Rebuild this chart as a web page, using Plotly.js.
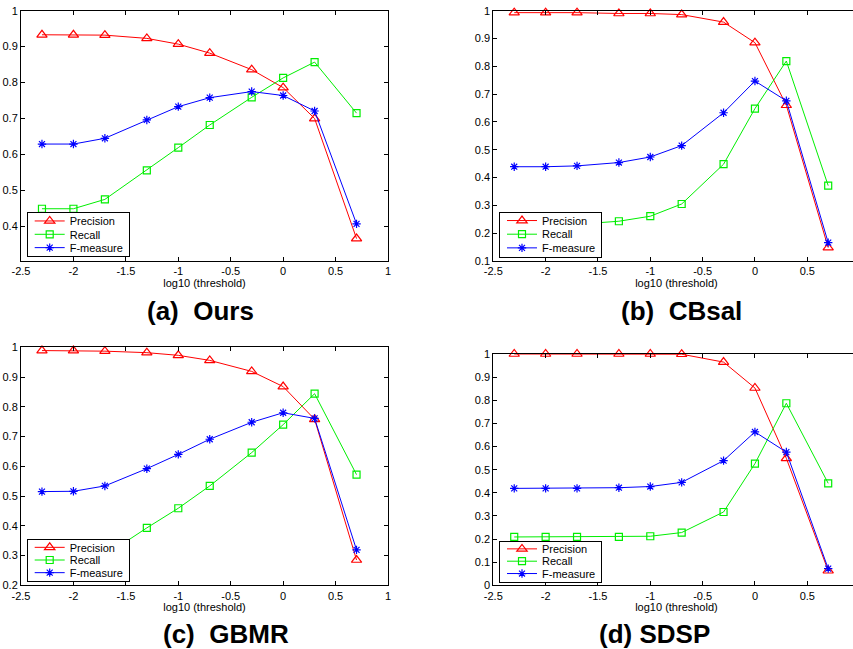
<!DOCTYPE html>
<html>
<head>
<meta charset="utf-8">
<script src="https://cdn.plot.ly/plotly-3.0.1.min.js"></script>
<style>
html, body { margin: 0; padding: 0; background: #fff; overflow: hidden; }
#chart { width: 860px; height: 649px; }
</style>
</head>
<body>
<div id="chart"></div>
<script>
// log10(threshold)
const logThreshold = [-2.3, -2, -1.7, -1.3, -1, -0.7, -0.3, 0, 0.3, 0.7];
const seriesNames = ['Precision', 'Recall', 'F-measure'];
const captions = ['(a)  Ours', '(b)  CBsal', '(c)  GBMR', '(d) SDSP'];
const xTickVals = [-2.5, -2, -1.5, -1, -0.5, 0, 0.5, 1];

// (a) Ours
const oursPrecision = [0.933, 0.933, 0.932, 0.923, 0.907, 0.882, 0.836, 0.786, 0.700, 0.366];
const oursRecall    = [0.449, 0.449, 0.475, 0.556, 0.619, 0.682, 0.759, 0.813, 0.857, 0.715];
const oursFmeasure  = [0.629, 0.629, 0.645, 0.696, 0.733, 0.758, 0.775, 0.764, 0.721, 0.407];

// (b) CBsal
const cbsalPrecision = [0.993, 0.993, 0.993, 0.990, 0.990, 0.986, 0.959, 0.885, 0.660, 0.148];
const cbsalRecall    = [0.230, 0.230, 0.232, 0.243, 0.261, 0.305, 0.448, 0.648, 0.819, 0.371];
const cbsalFmeasure  = [0.439, 0.439, 0.442, 0.454, 0.474, 0.515, 0.633, 0.747, 0.676, 0.166];

// (c) GBMR
const gbmrPrecision = [0.989, 0.989, 0.987, 0.982, 0.973, 0.956, 0.919, 0.868, 0.758, 0.285];
const gbmrRecall    = [0.290, 0.290, 0.300, 0.393, 0.459, 0.534, 0.646, 0.740, 0.844, 0.572];
const gbmrFmeasure  = [0.515, 0.516, 0.534, 0.592, 0.640, 0.691, 0.748, 0.780, 0.761, 0.319];

// (d) SDSP
const sdspPrecision = [1.000, 1.000, 1.000, 1.000, 1.000, 0.999, 0.965, 0.853, 0.549, 0.063];
const sdspRecall    = [0.209, 0.209, 0.209, 0.209, 0.212, 0.228, 0.317, 0.526, 0.787, 0.441];
const sdspFmeasure  = [0.419, 0.419, 0.419, 0.422, 0.427, 0.445, 0.539, 0.663, 0.576, 0.072];

const panels = [
  [oursPrecision, oursRecall, oursFmeasure],
  [cbsalPrecision, cbsalRecall, cbsalFmeasure],
  [gbmrPrecision, gbmrRecall, gbmrFmeasure],
  [sdspPrecision, sdspRecall, sdspFmeasure]
];

const W = 860, H = 649;
const FONT = 'Liberation Sans, Arial, sans-serif';
const colors = ['#ff0000', '#00ee00', '#0000ff'];
const symbols = ['triangle-up-open', 'square-open', 'asterisk-open'];
const msizes = [9, 7, 7];

// pixel boxes [left, right, top, bottom]
const boxes = [
  [21, 388, 10.7, 260.5],
  [493.3, 859.6, 10.7, 261],
  [21, 388, 347.3, 585.3],
  [493.3, 859.6, 354, 585.3]
];
const yRanges = [[0.305, 1], [0.1, 1], [0.2, 1], [0, 1]];
const yTicks = [
  [0.4, 0.5, 0.6, 0.7, 0.8, 0.9, 1],
  [0.1, 0.2, 0.3, 0.4, 0.5, 0.6, 0.7, 0.8, 0.9, 1],
  [0.2, 0.3, 0.4, 0.5, 0.6, 0.7, 0.8, 0.9, 1],
  [0, 0.1, 0.2, 0.3, 0.4, 0.5, 0.6, 0.7, 0.8, 0.9, 1]
];
const legendBoxes = [
  [26.7, 212.3],
  [499, 211.7],
  [26.7, 539],
  [499, 540.7]
];
const legendHeights = [44, 45, 42, 41];
const legendWidth = 102;
const captionPos = [[200, 311], [681, 311], [226, 634], [654, 634]];

const data = [];
const layout = {
  width: W, height: H,
  margin: {l: 0, r: 0, t: 0, b: 0},
  paper_bgcolor: '#fff', plot_bgcolor: '#fff',
  font: {family: FONT, size: 11, color: '#000'},
  showlegend: true,
  annotations: []
};

panels.forEach((series, p) => {
  const sfx = p === 0 ? '' : String(p + 1);
  const legName = 'legend' + sfx;
  series.forEach((vals, s) => {
    data.push({
      x: logThreshold, y: vals, name: seriesNames[s],
      type: 'scatter', mode: 'lines+markers',
      xaxis: 'x' + sfx, yaxis: 'y' + sfx,
      legend: legName,
      cliponaxis: false,
      line: {color: colors[s], width: 1},
      marker: {symbol: symbols[s], size: msizes[s], color: colors[s], line: {color: colors[s], width: 1.2}}
    });
  });
  const b = boxes[p];
  const axCommon = {
    showline: true, linecolor: '#000', linewidth: 1, mirror: 'ticks',
    ticks: 'inside', ticklen: 4, tickcolor: '#000', tickwidth: 1,
    showgrid: false, zeroline: false,
    tickfont: {family: FONT, size: 11, color: '#000'}
  };
  layout['xaxis' + sfx] = Object.assign({}, axCommon, {
    domain: [b[0] / W, b[1] / W],
    range: [-2.5, 1],
    tickvals: xTickVals,
    ticktext: xTickVals.map(v => String(v)),
    anchor: 'y' + sfx,
    title: {text: 'log10 (threshold)', font: {family: FONT, size: 11, color: '#000'}, standoff: 2}
  });
  layout['yaxis' + sfx] = Object.assign({}, axCommon, {
    domain: [1 - b[3] / H, 1 - b[2] / H],
    range: yRanges[p],
    tickvals: yTicks[p],
    ticktext: yTicks[p].map(v => String(v)),
    anchor: 'x' + sfx
  });
  const lb = legendBoxes[p];
  layout[legName] = {
    x: lb[0] / W, y: 1 - lb[1] / H, xanchor: 'left', yanchor: 'top',
    xref: 'paper', yref: 'paper',
    bgcolor: '#fff', bordercolor: '#000', borderwidth: 1,
    font: {family: FONT, size: 11, color: '#000'},
    tracegroupgap: 0
  };
  layout.annotations.push({
    text: '<b>' + captions[p] + '</b>',
    xref: 'paper', yref: 'paper',
    x: captionPos[p][0] / W, y: 1 - captionPos[p][1] / H,
    xanchor: 'center', yanchor: 'middle', showarrow: false,
    font: {family: FONT, size: 26, color: '#000'}
  });
});

const gd = document.getElementById('chart');
Plotly.newPlot(gd, data, layout, {staticPlot: true, displayModeBar: false}).then(() => {
  // compact legend rows to match the MATLAB legend spacing
  const legends = Array.from(gd.querySelectorAll('g')).filter(g => {
    const c = g.getAttribute('class') || '';
    return /^legend\d*$/.test(c.trim());
  });
  legends.forEach(lg => {
    const c = lg.getAttribute('class').trim();
    const idx = c === 'legend' ? 0 : parseInt(c.slice(6), 10) - 1;
    const h = legendHeights[idx] || 44;
    const step = (h - 4) / 3;
    const items = lg.querySelectorAll('g.traces');
    items.forEach((it, i) => {
      const t = it.getAttribute('transform') || '';
      const m = t.match(/translate\(([-\d.]+)[ ,]+([-\d.]+)\)/);
      const x = m ? parseFloat(m[1]) : 1;
      it.setAttribute('transform', 'translate(' + (x + 2) + ',' + (2 + step / 2 + step * i) + ')');
    });
    const bg = lg.querySelector('rect.bg');
    if (bg) { bg.setAttribute('height', h); bg.setAttribute('width', legendWidth); }
  });
});
</script>
</body>
</html>
